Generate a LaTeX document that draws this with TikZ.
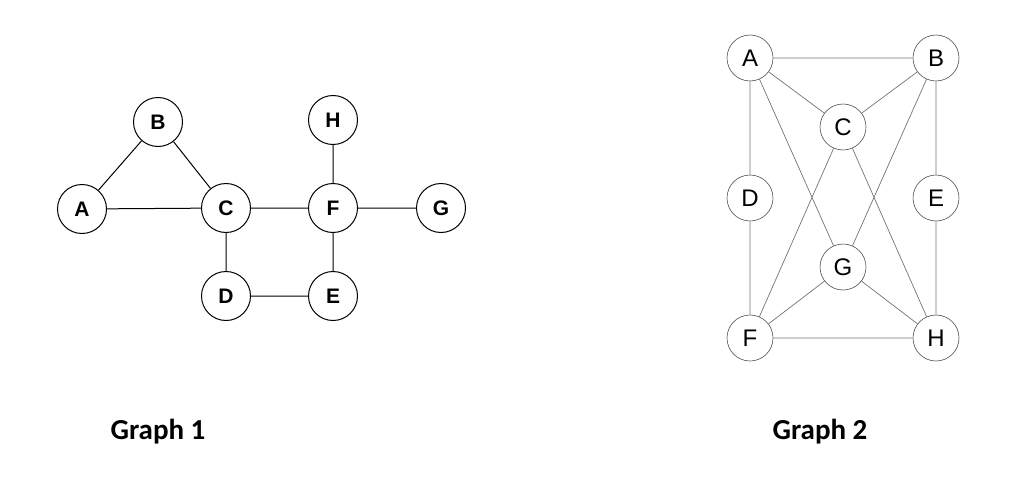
\documentclass[tikz,border=0pt]{standalone}
\usepackage{fontspec}
\setmainfont{Liberation Sans}
\newfontfamily\calib{Carlito}
\begin{document}
\begin{tikzpicture}[x=1pt,y=-1pt,
 gone/.style={circle,draw,line width=1pt,minimum size=49pt,inner sep=0pt,font=\fontsize{21}{21}\selectfont\bfseries},
 gtwo/.style={circle,draw=black!70,line width=0.6pt,minimum size=46pt,inner sep=0pt,font=\fontsize{24}{24}\selectfont},
 eone/.style={line width=1pt},
 etwo/.style={draw=black!55,line width=0.7pt},
 captext/.style={font=\calib\bfseries\fontsize{29}{29}\selectfont}]
\useasboundingbox (0,0) rectangle (1024,503);
% Graph 1
\node[gone] (A) at (82,209) {A};
\node[gone] (B) at (158,122) {B};
\node[gone] (C) at (226,208) {C};
\node[gone] (H) at (333,120) {H};
\node[gone] (F) at (333,208) {F};
\node[gone] (G) at (441,208) {G};
\node[gone] (D) at (226,296) {D};
\node[gone] (E) at (333,296) {E};
\draw[eone] (A)--(B) (A)--(C) (B)--(C) (C)--(F) (F)--(G) (F)--(H) (C)--(D) (D)--(E) (E)--(F);
% Graph 2
\node[gtwo] (a) at (750,58) {A};
\node[gtwo] (b) at (936,58) {B};
\node[gtwo] (c) at (843,127) {C};
\node[gtwo] (d) at (750,198) {D};
\node[gtwo] (e) at (936,198) {E};
\node[gtwo] (g) at (843,267) {G};
\node[gtwo] (f) at (750,338) {F};
\node[gtwo] (h) at (936,338) {H};
\draw[etwo] (a)--(b) (a)--(c) (a)--(d) (a)--(g) (b)--(c) (b)--(g) (b)--(e) (c)--(f) (c)--(h) (d)--(f) (e)--(h) (f)--(g) (g)--(h) (f)--(h);
\node[captext] (t1) at (158,432) {Graph 1};
\node[captext] (t2) at (820,432) {Graph 2};
\end{tikzpicture}
\end{document}
